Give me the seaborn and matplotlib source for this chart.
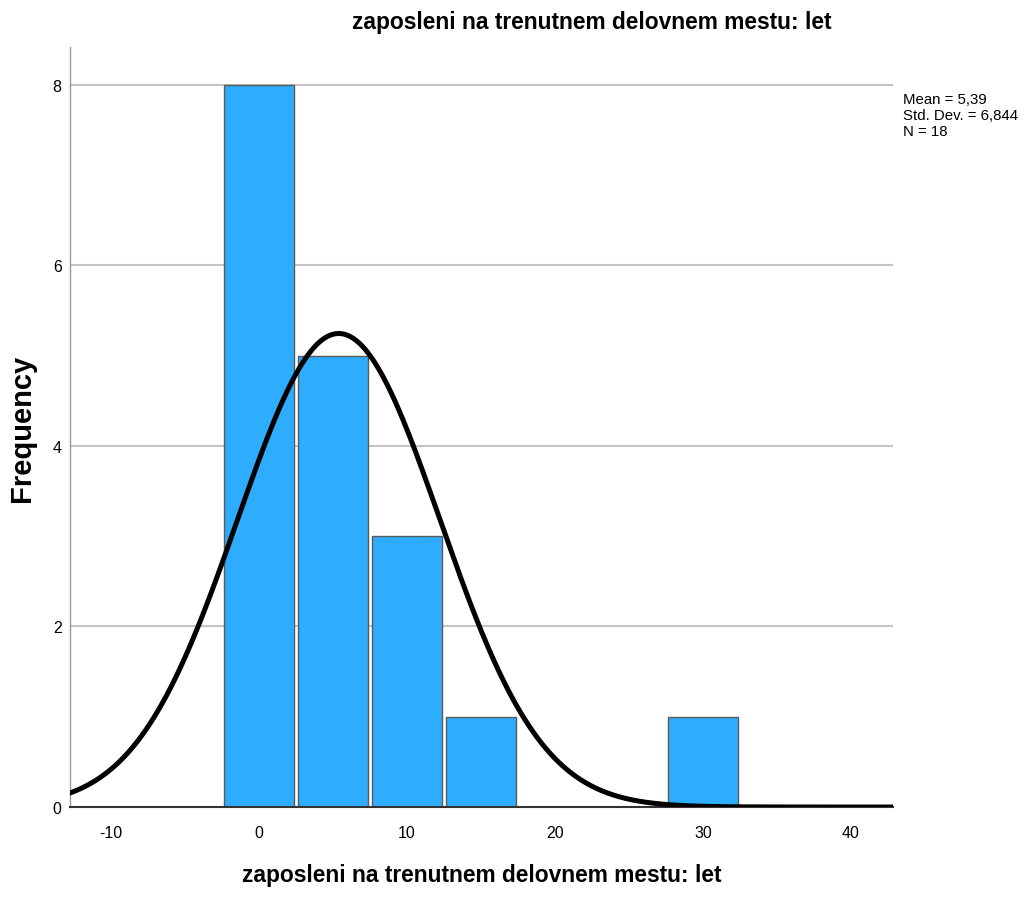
import numpy as np
import pandas as pd
import matplotlib
matplotlib.use("Agg")
import matplotlib.pyplot as plt
import seaborn as sns

# Years at the current workplace, grouped in 5-year bins
bin_centers = [0, 5, 10, 15, 20, 25, 30]
counts = [8, 5, 3, 1, 0, 0, 1]
mean_val = 5.39
std_val = 6.844
n_val = 18
bin_width = 5

title = "zaposleni na trenutnem delovnem mestu: let"
x_ticks = [-10, 0, 10, 20, 30, 40]
y_ticks = [0, 2, 4, 6, 8]

sns.set_theme(style="white")
plt.rcParams["font.family"] = ["Liberation Sans", "DejaVu Sans"]
plt.rcParams["axes.unicode_minus"] = False
plt.rcParams["text.color"] = "black"
plt.rcParams["axes.labelcolor"] = "black"

fig = plt.figure(figsize=(10.25, 9.03), dpi=100)
ax = fig.add_axes([0.0683, 0.1052, 0.8029, 0.8416])

df = pd.DataFrame({"years": bin_centers, "count": counts})
sns.histplot(data=df, x="years", weights="count", binwidth=bin_width,
             binrange=(-2.5, 32.5), shrink=0.95, color="#2EADFF", alpha=1,
             edgecolor="#5a5a5a", linewidth=1.0, ax=ax, zorder=2)

# Normal curve scaled to the histogram
xs = np.linspace(-13, 43, 400)
ys = n_val * bin_width * np.exp(-0.5 * ((xs - mean_val) / std_val) ** 2) / (std_val * np.sqrt(2 * np.pi))
sns.lineplot(x=xs, y=ys, color="black", linewidth=3.6, ax=ax, zorder=3)

ax.set_xlim(-12.77, 42.84)
ax.set_ylim(0, 8.42)
ax.set_xticks(x_ticks)
ax.set_yticks(y_ticks)
ax.tick_params(axis="both", length=0, labelsize=11.5, colors="black")
ax.tick_params(axis="x", pad=13)
ax.tick_params(axis="y", pad=6)
for y in y_ticks[1:]:
    ax.axhline(y, color="#c4c4c4", linewidth=1.5, zorder=1)

for side in ["top", "right"]:
    ax.spines[side].set_visible(False)
ax.spines["left"].set_color("#9a9a9a")
ax.spines["left"].set_linewidth(1.0)
ax.spines["bottom"].set_color("#333333")
ax.spines["bottom"].set_linewidth(1.5)

ax.set_xlabel("")
ax.set_ylabel("")
fig.text(0.0215, 0.526, "Frequency", rotation=90, ha="center", va="center",
         fontsize=21, fontweight="bold")
fig.text(0.4698, 0.0177, title, ha="center", va="bottom", fontsize=16.4, fontweight="bold")
fig.text(0.5776, 0.975, title, ha="center", va="center", fontsize=16.4, fontweight="bold")

mean_txt = f"{mean_val:.2f}".replace(".", ",")
std_txt = f"{std_val:.3f}".replace(".", ",")
fig.text(0.881, 0.889, f"Mean = {mean_txt}", fontsize=10.8, va="center")
fig.text(0.881, 0.8715, f"Std. Dev. = {std_txt}", fontsize=10.8, va="center")
fig.text(0.881, 0.854, f"N = {n_val}", fontsize=10.8, va="center")

fig.savefig("out.png", dpi=100)
